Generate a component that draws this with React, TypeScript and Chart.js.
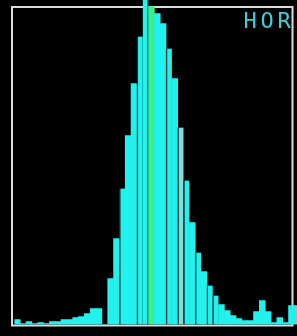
import { useEffect, useRef } from "react";
import { Chart, registerables } from "chart.js";

Chart.register(...registerables);

// Histogram bins (left to right) and their counts
const binLabels = [
  "0", "1", "2", "3", "4", "5", "6", "7", "8", "9",
  "10", "11", "12", "13", "14", "15", "16", "17", "18", "19",
  "20", "21", "22", "23", "24", "25", "26", "27", "28", "29",
  "30", "31", "32", "33", "34", "35", "36", "37", "38", "39",
  "40", "41", "42", "43", "44", "45", "46", "47", "48",
];

const counts = [
  5, 1, 3, 1, 2, 1, 3, 3, 5, 5,
  7, 8, 11, 16, 16, 0, 46, 86, 136, 189,
  241, 288, 330, 318, 311, 301, 276, 246, 197, 144,
  102, 72, 53, 39, 29, 20, 14, 9, 6, 4,
  4, 13, 24, 13, 2, 7, 2, 19, 19,
];

const highlightBin = 23;
const cornerLabel = "HOR";

export default function App() {
  const canvasRef = useRef<HTMLCanvasElement | null>(null);

  useEffect(() => {
    if (!canvasRef.current) return;
    document.body.style.margin = "0";
    document.body.style.background = "#000";

    const leftSeparators = new Set([18, 21, 26, 28, 29, 31, 33, 34]);
    const rightSeparators = new Set([22]);
    const colors = counts.map((_, i) =>
      i === highlightBin ? "#3cee8a" : i === 28 ? "#7fdcd8" : "#22f2ee"
    );
    const borders = counts.map((_, i) =>
      leftSeparators.has(i)
        ? { left: 1.5, right: 0, top: 0, bottom: 0 }
        : rightSeparators.has(i)
        ? { left: 0, right: 1.5, top: 0, bottom: 0 }
        : 0
    );

    const framePlugin = {
      id: "frame",
      beforeDatasetsDraw(chart: any) {
        const ctx = chart.ctx;
        ctx.save();
        ctx.strokeStyle = "#d9dcdc";
        ctx.lineWidth = 2;
        ctx.strokeRect(12, 7, 280.5, 318.5);
        ctx.restore();
      },
      afterDatasetsDraw(chart: any) {
        const ctx = chart.ctx;
        ctx.save();
        ctx.fillStyle = "#3ccfd6";
        ctx.font = "22px 'DejaVu Sans Mono'";
        ctx.textBaseline = "alphabetic";
        ctx.textAlign = "left";
        const chars = cornerLabel.split("");
        chars.forEach((c, i) => {
          ctx.fillText(c, 243.5 + i * 17, 28);
        });
        ctx.restore();
      },
    };

    const chart = new Chart(canvasRef.current, {
      type: "bar",
      data: {
        labels: binLabels,
        datasets: [
          {
            data: counts,
            backgroundColor: colors,
            borderColor: "#0a3a3a",
            borderWidth: borders as any,
            borderSkipped: false,
            barPercentage: 1,
            categoryPercentage: 1,
          },
        ],
      },
      options: {
        animation: false,
        responsive: true,
        maintainAspectRatio: false,
        layout: { padding: { left: 14.4, right: 0.8, top: 0, bottom: 11.5 } },
        plugins: {
          legend: { display: false },
          tooltip: { enabled: false },
          title: { display: false },
        },
        scales: {
          x: { type: "category", display: false, offset: true, grid: { display: false } },
          y: { display: false, min: 0, max: 324.5, grid: { display: false } },
        },
      },
      plugins: [framePlugin],
    });

    return () => chart.destroy();
  }, []);

  return (
    <div
      style={{
        position: "fixed",
        left: 0,
        top: 0,
        width: 297,
        height: 336,
        overflow: "hidden",
        background: "#000",
      }}
    >
      <div style={{ position: "absolute", left: 0, top: 0, width: 301, height: 336 }}>
        <canvas ref={canvasRef} />
      </div>
    </div>
  );
}
